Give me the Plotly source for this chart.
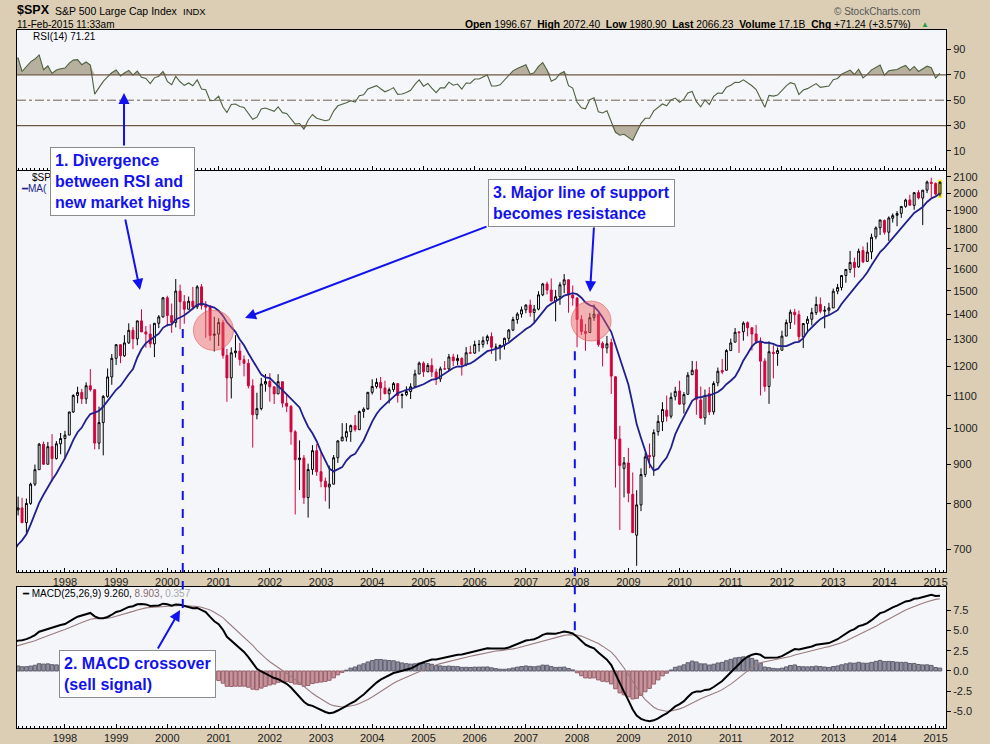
import pandas as pd
import plotly.graph_objects as go
from plotly.subplots import make_subplots

## Monthly S&P 500 bars, Jan 1997 - Feb 2015 (one row per year)
months = pd.date_range('1997-01-01', '2015-02-01', freq='MS')

opens = [
    740.74, 786.16, 790.82, 757.12, 801.34, 848.28, 885.14, 954.29, 899.47, 947.28, 914.62, 955.40,
    970.43, 980.28, 1049.34, 1101.75, 1111.75, 1090.82, 1133.84, 1120.67, 957.28, 1017.01, 1098.67, 1163.63,
    1229.23, 1279.64, 1238.33, 1286.37, 1335.18, 1301.84, 1372.71, 1328.72, 1320.41, 1282.71, 1362.93, 1388.91,
    1469.25, 1394.46, 1366.42, 1498.58, 1452.43, 1420.60, 1454.60, 1430.83, 1517.68, 1436.28, 1429.40, 1315.23,
    1320.28, 1366.01, 1239.94, 1160.33, 1249.46, 1255.82, 1224.38, 1211.23, 1133.58, 1040.94, 1059.78, 1139.45,
    1148.08, 1130.20, 1106.73, 1147.39, 1076.92, 1067.14, 989.82, 911.62, 916.07, 815.28, 885.76, 936.31,
    879.82, 855.70, 841.15, 848.18, 916.92, 963.59, 974.50, 990.31, 1008.01, 995.97, 1050.71, 1058.20,
    1111.92, 1131.13, 1144.94, 1126.21, 1107.30, 1120.68, 1140.84, 1101.72, 1104.24, 1114.58, 1130.20, 1173.82,
    1211.92, 1181.27, 1203.60, 1180.59, 1156.85, 1191.50, 1191.33, 1234.18, 1220.33, 1228.81, 1207.01, 1249.48,
    1248.29, 1280.08, 1280.66, 1294.83, 1310.61, 1270.09, 1270.20, 1276.66, 1303.82, 1335.85, 1377.94, 1400.63,
    1418.30, 1438.24, 1406.82, 1420.86, 1482.37, 1530.62, 1503.35, 1455.27, 1473.99, 1526.75, 1549.38, 1481.14,
    1468.36, 1378.60, 1330.45, 1326.41, 1385.97, 1399.62, 1284.91, 1267.38, 1287.83, 1164.17, 968.67, 888.61,
    902.99, 823.09, 729.57, 797.87, 872.81, 923.26, 920.82, 990.22, 1019.52, 1054.91, 1036.18, 1098.89,
    1116.56, 1073.89, 1105.36, 1171.23, 1188.58, 1087.30, 1031.10, 1107.53, 1049.72, 1143.49, 1185.71, 1186.60,
    1257.62, 1289.14, 1328.64, 1329.48, 1365.21, 1345.20, 1320.64, 1292.59, 1219.12, 1131.21, 1251.00, 1246.91,
    1258.86, 1312.45, 1365.90, 1408.47, 1397.86, 1309.87, 1362.33, 1379.32, 1406.54, 1440.90, 1412.20, 1416.34,
    1426.19, 1498.11, 1514.68, 1569.18, 1597.55, 1631.71, 1609.78, 1689.42, 1635.95, 1682.41, 1758.70, 1806.55,
    1845.86, 1782.68, 1857.68, 1873.96, 1884.66, 1923.87, 1960.97, 1929.80, 2004.07, 1971.44, 2018.21, 2065.78,
    2058.90, 1996.67,
]
highs = [
    794.67, 817.68, 814.90, 812.93, 851.87, 898.70, 957.73, 961.63, 960.46, 983.12, 963.04, 986.25,
    992.65, 1050.02, 1105.65, 1130.52, 1123.36, 1145.15, 1190.58, 1121.01, 1066.11, 1102.90, 1192.97, 1244.93,
    1280.37, 1281.66, 1316.18, 1362.80, 1347.76, 1372.93, 1420.33, 1352.02, 1358.69, 1363.32, 1396.12, 1473.10,
    1478.00, 1444.55, 1552.87, 1527.19, 1481.51, 1474.64, 1517.32, 1525.21, 1530.09, 1454.81, 1438.46, 1389.06,
    1383.37, 1376.86, 1263.47, 1269.30, 1315.93, 1286.62, 1239.78, 1226.27, 1155.40, 1110.61, 1160.55, 1173.62,
    1176.55, 1130.20, 1173.03, 1147.84, 1106.59, 1070.74, 994.46, 965.00, 924.02, 900.96, 951.57, 954.28,
    935.05, 864.64, 895.90, 924.24, 965.38, 1015.33, 1015.41, 1011.01, 1040.29, 1053.79, 1063.65, 1112.56,
    1155.38, 1158.98, 1163.23, 1150.57, 1127.74, 1146.34, 1140.84, 1108.60, 1131.54, 1142.05, 1188.46, 1217.33,
    1217.80, 1212.16, 1229.11, 1191.88, 1199.56, 1219.59, 1245.15, 1245.86, 1243.13, 1233.34, 1270.64, 1275.80,
    1294.90, 1297.57, 1310.88, 1318.16, 1326.70, 1284.00, 1280.42, 1306.74, 1340.28, 1389.45, 1407.89, 1431.81,
    1441.61, 1461.57, 1438.89, 1498.02, 1535.56, 1540.56, 1555.90, 1503.89, 1538.74, 1576.09, 1545.79, 1523.57,
    1471.77, 1396.02, 1359.68, 1404.57, 1440.24, 1404.05, 1292.17, 1313.15, 1303.04, 1167.03, 1007.51, 918.85,
    943.85, 877.86, 832.98, 888.70, 930.17, 956.23, 996.68, 1039.47, 1080.15, 1101.36, 1111.10, 1130.38,
    1150.45, 1112.42, 1180.16, 1219.80, 1218.64, 1131.23, 1120.95, 1129.24, 1148.67, 1196.14, 1227.08, 1262.60,
    1302.67, 1344.07, 1332.28, 1370.58, 1370.58, 1345.20, 1356.48, 1307.38, 1229.29, 1292.66, 1277.55, 1269.37,
    1333.47, 1378.04, 1419.15, 1422.38, 1415.32, 1363.46, 1391.74, 1426.68, 1474.51, 1470.96, 1434.27, 1448.00,
    1509.94, 1530.94, 1570.28, 1597.57, 1687.18, 1654.19, 1698.78, 1709.67, 1729.86, 1775.22, 1813.55, 1849.44,
    1850.84, 1867.92, 1883.97, 1897.28, 1924.03, 1968.17, 1991.39, 2005.04, 2019.26, 2018.19, 2075.76, 2093.55,
    2064.43, 2072.40,
]
lows = [
    737.01, 773.43, 756.13, 733.54, 798.00, 843.43, 885.14, 897.47, 899.47, 855.27, 912.12, 926.23,
    912.83, 979.90, 1046.40, 1076.70, 1074.39, 1074.67, 1114.30, 939.98, 939.98, 923.32, 1094.11, 1136.89,
    1205.46, 1211.94, 1234.66, 1282.56, 1263.11, 1277.47, 1328.72, 1268.37, 1268.37, 1233.70, 1343.73, 1386.25,
    1350.14, 1325.07, 1346.62, 1339.40, 1361.09, 1420.63, 1416.98, 1421.55, 1419.44, 1305.79, 1294.90, 1254.07,
    1274.62, 1228.33, 1081.19, 1091.99, 1232.00, 1203.03, 1165.54, 1124.87, 944.75, 1026.76, 1054.31, 1114.34,
    1081.66, 1074.36, 1106.73, 1063.46, 1048.96, 952.92, 775.68, 833.44, 800.20, 768.63, 872.05, 869.45,
    840.34, 806.29, 788.90, 847.85, 902.83, 963.21, 962.10, 960.84, 990.36, 995.32, 1031.20, 1061.50,
    1105.08, 1124.44, 1087.16, 1105.89, 1076.32, 1113.32, 1078.78, 1060.72, 1099.18, 1090.19, 1127.60, 1173.37,
    1163.75, 1180.95, 1163.69, 1136.15, 1146.18, 1188.30, 1183.55, 1201.07, 1205.35, 1168.20, 1201.07, 1246.59,
    1245.74, 1253.61, 1268.42, 1280.74, 1245.34, 1219.29, 1224.54, 1261.30, 1290.93, 1331.92, 1360.98, 1385.93,
    1403.97, 1389.42, 1363.98, 1416.37, 1476.70, 1484.18, 1454.25, 1370.60, 1439.29, 1489.56, 1406.10, 1435.65,
    1270.05, 1316.75, 1256.98, 1324.35, 1373.07, 1272.00, 1200.44, 1247.45, 1106.42, 839.80, 741.02, 815.69,
    804.10, 734.52, 666.79, 783.32, 866.10, 888.86, 869.32, 978.51, 991.97, 1020.18, 1029.38, 1085.89,
    1071.59, 1044.50, 1105.36, 1170.69, 1040.78, 1028.33, 1010.91, 1039.70, 1041.11, 1131.87, 1173.00, 1186.60,
    1257.62, 1289.14, 1249.05, 1294.70, 1311.80, 1258.07, 1282.86, 1101.54, 1114.22, 1074.77, 1158.66, 1202.37,
    1258.86, 1312.45, 1340.03, 1357.38, 1291.98, 1266.74, 1325.41, 1354.65, 1396.56, 1403.28, 1343.35, 1398.11,
    1426.19, 1485.01, 1501.48, 1536.03, 1581.28, 1560.33, 1604.57, 1627.47, 1633.41, 1646.47, 1746.20, 1767.99,
    1770.45, 1737.92, 1834.44, 1814.36, 1859.79, 1915.98, 1930.67, 1904.78, 1964.04, 1820.66, 2001.01, 1972.56,
    1988.12, 1980.90,
]
closes = [
    786.16, 790.82, 757.12, 801.34, 848.28, 885.14, 954.31, 899.47, 947.28, 914.62, 955.40, 970.43,
    980.28, 1049.34, 1101.75, 1111.75, 1090.82, 1133.84, 1120.67, 957.28, 1017.01, 1098.67, 1163.63, 1229.23,
    1279.64, 1238.33, 1286.37, 1335.18, 1301.84, 1372.71, 1328.72, 1320.41, 1282.71, 1362.93, 1388.91, 1469.25,
    1394.46, 1366.42, 1498.58, 1452.43, 1420.60, 1454.60, 1430.83, 1517.68, 1436.51, 1429.40, 1314.95, 1320.28,
    1366.01, 1239.94, 1160.33, 1249.46, 1255.82, 1224.42, 1211.23, 1133.58, 1040.94, 1059.78, 1139.45, 1148.08,
    1130.20, 1106.73, 1147.39, 1076.92, 1067.14, 989.82, 911.62, 916.07, 815.28, 885.76, 936.31, 879.82,
    855.70, 841.15, 848.18, 916.92, 963.59, 974.50, 990.31, 1008.01, 995.97, 1050.71, 1058.20, 1111.92,
    1131.13, 1144.94, 1126.21, 1107.30, 1120.68, 1140.84, 1101.72, 1104.24, 1114.58, 1130.20, 1173.82, 1211.92,
    1181.27, 1203.60, 1180.59, 1156.85, 1191.50, 1191.33, 1234.18, 1220.33, 1228.81, 1207.01, 1249.48, 1248.29,
    1280.08, 1280.66, 1294.83, 1310.61, 1270.09, 1270.20, 1276.66, 1303.82, 1335.85, 1377.94, 1400.63, 1418.30,
    1438.24, 1406.82, 1420.86, 1482.37, 1530.62, 1503.35, 1455.27, 1473.99, 1526.75, 1549.38, 1481.14, 1468.36,
    1378.55, 1330.63, 1322.70, 1385.59, 1400.38, 1280.00, 1267.38, 1282.83, 1166.36, 968.75, 896.24, 903.25,
    825.88, 735.09, 797.87, 872.81, 919.14, 919.32, 987.48, 1020.62, 1057.08, 1036.19, 1095.63, 1115.10,
    1073.87, 1104.49, 1169.43, 1186.69, 1089.41, 1030.71, 1101.60, 1049.33, 1141.20, 1183.26, 1180.55, 1257.64,
    1286.12, 1327.22, 1325.83, 1363.61, 1345.20, 1320.64, 1292.28, 1218.89, 1131.42, 1253.30, 1246.96, 1257.60,
    1312.41, 1365.68, 1408.47, 1397.91, 1310.33, 1362.16, 1379.32, 1406.58, 1440.67, 1412.16, 1416.18, 1426.19,
    1498.11, 1514.68, 1569.19, 1597.57, 1630.74, 1606.28, 1685.73, 1632.97, 1681.55, 1756.54, 1805.81, 1848.36,
    1782.59, 1859.45, 1872.34, 1883.95, 1923.57, 1960.23, 1930.67, 2003.37, 1972.29, 2018.05, 2067.56, 2058.90,
    1994.99, 2066.23,
]

## Monthly closes Jan 1993 - Dec 1996, only used so the indicators are warmed up
warmup_closes = [
    438.78, 443.38, 451.67, 440.19, 450.19, 450.53, 448.13, 463.56, 458.93, 467.83, 461.79, 466.45,
    481.61, 467.14, 445.77, 450.91, 456.50, 444.27, 458.26, 475.49, 462.69, 472.35, 453.69, 459.27,
    470.42, 487.39, 500.71, 514.71, 533.40, 544.75, 562.06, 561.88, 584.41, 581.50, 605.37, 615.93,
    636.02, 640.43, 645.50, 654.17, 669.12, 670.63, 639.95, 651.99, 687.33, 705.27, 757.02, 740.74,
]

## Indicators named in the chart: MA(10), RSI(14), MACD(25,26,9)
all_close = pd.Series(warmup_closes + closes, dtype=float)
n_warm = len(warmup_closes)

ma10 = all_close.rolling(10).mean()

delta = all_close.diff()
gain = delta.clip(lower=0).ewm(alpha=1 / 14, adjust=False).mean()
loss = (-delta.clip(upper=0)).ewm(alpha=1 / 14, adjust=False).mean()
rsi = 100 - 100 / (1 + gain / loss)

ema_fast = all_close.ewm(span=25, adjust=False).mean()
ema_slow = all_close.ewm(span=26, adjust=False).mean()
macd = ema_fast - ema_slow
signal = macd.ewm(span=9, adjust=False).mean()
hist = macd - signal

ma10 = ma10.iloc[n_warm:].values
rsi = rsi.iloc[n_warm:].values
macd = macd.iloc[n_warm:].values
signal = signal.iloc[n_warm:].values
hist = hist.iloc[n_warm:].values

## Colours
TAN = '#DBCEB5'
PANEL = '#F4F6FA'
RED = '#D2043C'
BLUE = '#1212EE'
FONT = 'Liberation Sans, Arial, sans-serif'

fig = make_subplots(rows=3, cols=1, shared_xaxes=True, vertical_spacing=0.02)

## RSI panel: shaded zones above 70 / below 30, then the line
fig.add_trace(go.Scatter(x=months, y=[70] * len(months), mode='lines',
                         line=dict(width=0), hoverinfo='skip'), row=1, col=1)
fig.add_trace(go.Scatter(x=months, y=[max(v, 70) for v in rsi], mode='lines',
                         line=dict(width=0), fill='tonexty', fillcolor='#B8B09E'), row=1, col=1)
fig.add_trace(go.Scatter(x=months, y=[30] * len(months), mode='lines',
                         line=dict(width=0), hoverinfo='skip'), row=1, col=1)
fig.add_trace(go.Scatter(x=months, y=[min(v, 30) for v in rsi], mode='lines',
                         line=dict(width=0), fill='tonexty', fillcolor='#B8B09E'), row=1, col=1)
fig.add_trace(go.Scatter(x=months, y=rsi, mode='lines',
                         line=dict(color='#4E6240', width=1.1)), row=1, col=1)
fig.add_hline(y=70, line=dict(color='#6E5844', width=1.2), row=1, col=1)
fig.add_hline(y=30, line=dict(color='#6E5844', width=1.2), row=1, col=1)
fig.add_hline(y=50, line=dict(color='#6E6050', width=1, dash='dashdot'), row=1, col=1)

## Price panel: hollow candles + 10 month moving average
fig.add_trace(go.Candlestick(
    x=months, open=opens, high=highs, low=lows, close=closes,
    increasing=dict(line=dict(color='black', width=1), fillcolor='white'),
    decreasing=dict(line=dict(color=RED, width=1), fillcolor=RED),
    whiskerwidth=0), row=2, col=1)
fig.add_trace(go.Scatter(x=months, y=ma10, mode='lines',
                         line=dict(color='#20208C', width=1.8)), row=2, col=1)

## Red circles marking the retest of the moving average
fig.add_trace(go.Scatter(x=['2000-11-25', '2008-04-10'], y=[1335, 1372], mode='markers',
                         marker=dict(size=40, color='rgba(240,95,95,0.45)',
                                     line=dict(color='rgba(225,80,80,0.55)', width=1))),
              row=2, col=1)

## MACD panel
fig.add_trace(go.Bar(x=months, y=hist,
                     marker=dict(color=['#8E8E9E' if v >= 0 else '#C8949C' for v in hist],
                                 line=dict(color=['#5E5E6E' if v >= 0 else '#96606A' for v in hist],
                                           width=1))), row=3, col=1)
fig.add_trace(go.Scatter(x=months, y=signal, mode='lines',
                         line=dict(color='#9A7C7C', width=1.1)), row=3, col=1)
fig.add_trace(go.Scatter(x=months, y=macd, mode='lines',
                         line=dict(color='black', width=2)), row=3, col=1)

## Current month highlight
fig.add_shape(type='rect', xref='x2', yref='y2', x0='2015-01-19', x1='2015-02-13',
              y0=1976, y1=2079, fillcolor='#FFFF55', line=dict(color='#F0F000', width=1),
              layer='below')

## Dashed vertical lines linking the price top to the MACD crossover
fig.add_shape(type='line', xref='x2', yref='paper', x0='2000-04-20', x1='2000-04-20',
              y0=0.172, y1=0.573, line=dict(color=BLUE, width=2, dash='dash'))
fig.add_shape(type='line', xref='x2', yref='paper', x0='2007-12-16', x1='2007-12-16',
              y0=0.140, y1=0.549, line=dict(color=BLUE, width=2, dash='dash'))

x_range = ['1997-01-24', '2015-03-16']
fig.update_xaxes(type='date', range=x_range, showgrid=False, showline=True, mirror=True,
                 linecolor='black', linewidth=1, ticks='inside', ticklen=4, tickcolor='black',
                 dtick='M12', tick0='1998-01-01', tickformat='%Y',
                 minor=dict(dtick='M1', ticks='inside', ticklen=2, tickcolor='black'),
                 tickfont=dict(family=FONT, size=11, color='#222'),
                 rangeslider_visible=False, zeroline=False, automargin=False)
fig.update_xaxes(showticklabels=False, row=1, col=1)
fig.update_xaxes(showticklabels=True, row=2, col=1)
fig.update_xaxes(showticklabels=True, row=3, col=1)

axis_style = dict(side='right', showgrid=False, showline=True, mirror=True, linecolor='black',
                  linewidth=1, ticks='outside', ticklen=4, tickcolor='black', zeroline=False,
                  automargin=False, tickfont=dict(family=FONT, size=11, color='#222'))
fig.update_yaxes(**axis_style)

rsi_ticks = [10, 30, 50, 70, 90]
price_ticks = [700, 800, 900, 1000, 1100, 1200, 1300, 1400, 1500, 1600, 1700, 1800, 1900, 2000, 2100]
macd_ticks = [-5.0, -2.5, 0.0, 2.5, 5.0, 7.5]

fig.update_layout(
    yaxis=dict(domain=[0.7994, 1.0], range=[-5, 105.3], tickvals=rsi_ticks),
    yaxis2=dict(domain=[0.2235, 0.798], type='log', range=[2.816, 3.3295],
                tickvals=price_ticks, ticktext=[str(v) for v in price_ticks]),
    yaxis3=dict(domain=[0, 0.202], range=[-7.02, 10.34], tickvals=macd_ticks,
                ticktext=['%.1f' % v for v in macd_ticks]),
)

annotations = []


def note(text, x, y, size=11, color='black', xanchor='left', yanchor='middle', **kw):
    annotations.append(dict(text=text, x=x, y=y, xref='paper', yref='paper', showarrow=False,
                            xanchor=xanchor, yanchor=yanchor,
                            font=dict(family=FONT, size=size, color=color), **kw))


def arrow(x, y, ax, ay):
    annotations.append(dict(text='', x=x, y=y, xref='paper', yref='paper', ax=ax, ay=ay,
                            showarrow=True, arrowhead=2, arrowsize=1.1, arrowwidth=2,
                            arrowcolor=BLUE))


## Header
note('<b>$SPX</b>', -0.002, 1.0287, size=12.5)
note('S&P 500 Large Cap Index', 0.0385, 1.0272, size=10.5)
note('INDX', 0.1765, 1.0272, size=9.5)
note('11-Feb-2015 11:33am', -0.002, 1.0072, size=10)
note('<b>Open</b> 1996.67  <b>High</b> 2072.40  <b>Low</b> 1980.90  <b>Last</b> 2066.23  '
     '<b>Volume</b> 17.1B  <b>Chg</b> +71.24 (+3.57%)', 0.9645, 1.0079, size=10.3, xanchor='right')
note('▲', 0.9705, 1.0079, size=8, color='#2E9E3E')
note('© StockCharts.com', 0.974, 1.0258, size=10, color='#555', xanchor='right')

## Panel labels (the price legend is mostly hidden by box 1, as in the original)
note('RSI(14) 71.21', 0.015, 0.990, size=10)
note('$SP', 0.0145, 0.789, size=10)
note('━MA(', 0.002, 0.7736, size=10, color='#20208C')
note('<span style="color:black">━ MACD(25,26,9) 9.260,</span> '
     '<span style="color:#8A6A6A">8.903,</span> <span style="color:#A8A8A8">0.357</span>',
     0.003, 0.192, size=10)

## Arrows first so the boxes sit on top of their tails
arrow(0.1152, 0.9097, 0, 54)
arrow(0.1324, 0.6275, -15, -72)
arrow(0.1755, 0.1691, -23, 40)
arrow(0.2454, 0.5874, 243, -92)
arrow(0.6168, 0.6246, 4, -66)

box = dict(bgcolor='white', bordercolor='#8C8C8C', borderwidth=1, borderpad=4, align='left',
           yanchor='top')
note('<b>1. Divergence<br>between RSI and<br>new market highs</b>', 0.0355, 0.8324,
     size=16, color=BLUE, **box)
note('<b>2. MACD crossover<br>(sell signal)</b>', 0.0452, 0.1117, size=16, color=BLUE, **box)
note('<b>3. Major line of support<br>becomes resistance</b>', 0.507, 0.7865,
     size=16, color=BLUE, **box)

fig.update_layout(
    width=990, height=744,
    margin=dict(l=17, r=44, t=30, b=16),
    paper_bgcolor=TAN, plot_bgcolor=PANEL,
    showlegend=False, bargap=0.08,
    font=dict(family=FONT, size=11, color='#222'),
    annotations=annotations,
)

## the page's default body margin would push the 990x744 figure off the window
fig.write_html("out.html", config={'displayModeBar': False},
               post_script="document.body.style.margin='0';")
